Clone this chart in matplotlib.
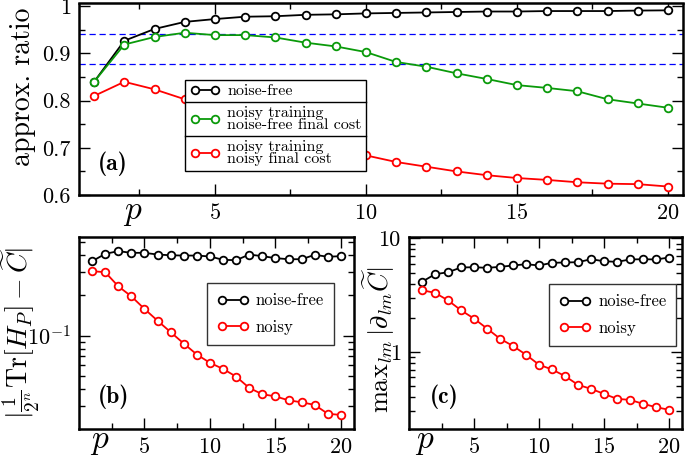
import numpy as np
import matplotlib.pyplot as plt
from matplotlib.lines import Line2D
from matplotlib.ticker import FuncFormatter, NullFormatter, FixedLocator

plt.rcParams["font.family"] = "serif"
plt.rcParams["font.serif"] = ["cmr10"]
plt.rcParams["mathtext.fontset"] = "cm"
plt.rcParams["axes.unicode_minus"] = False
plt.rcParams["axes.formatter.use_mathtext"] = True

# Circuit depth
p = [1, 2, 3, 4, 5, 6, 7, 8, 9, 10, 11, 12, 13, 14, 15, 16, 17, 18, 19, 20]

# (a) approximation ratio
ratio_free = [0.840, 0.927, 0.952, 0.967, 0.973, 0.978, 0.979, 0.982, 0.983, 0.985,
              0.986, 0.987, 0.988, 0.989, 0.989, 0.990, 0.990, 0.990, 0.991, 0.9915]
ratio_noisy_train = [0.840, 0.919, 0.935, 0.944, 0.939, 0.939, 0.934, 0.923, 0.915, 0.903,
                     0.882, 0.872, 0.858, 0.846, 0.833, 0.827, 0.820, 0.803, 0.794, 0.785]
ratio_noisy = [0.810, 0.840, 0.824, 0.803, 0.782, 0.762, 0.744, 0.727, 0.710, 0.684,
               0.670, 0.660, 0.650, 0.642, 0.636, 0.632, 0.627, 0.624, 0.623, 0.618]
bounds = [16 / 17, 0.878]

# (b) cost difference
diff_free = [0.358, 0.407, 0.426, 0.414, 0.414, 0.402, 0.397, 0.395, 0.395, 0.389,
             0.367, 0.365, 0.402, 0.391, 0.378, 0.371, 0.371, 0.400, 0.387, 0.391]
diff_noisy = [0.302, 0.297, 0.233, 0.196, 0.158, 0.129, 0.106, 0.0872, 0.0722, 0.0626,
              0.0564, 0.0494, 0.0407, 0.0365, 0.0352, 0.0329, 0.0318, 0.0304, 0.0261, 0.0256]

# (c) max gradient
grad_free = [4.15, 4.84, 5.04, 5.55, 5.58, 5.51, 5.62, 5.78, 5.93, 5.78,
             6.10, 6.14, 6.18, 6.56, 6.30, 6.22, 6.53, 6.56, 6.53, 6.79]
grad_noisy = [3.50, 3.32, 2.85, 2.33, 1.97, 1.61, 1.31, 1.13, 0.947, 0.773,
              0.702, 0.614, 0.514, 0.474, 0.428, 0.387, 0.379, 0.350, 0.327, 0.310]

green = "#0a9a0a"
mk = dict(marker="o", ms=5.5, mfc="white", mew=1.3, lw=1.3)

W, H = 685, 458
fig = plt.figure(figsize=(W / 100, H / 100), dpi=100)
ax_a = fig.add_axes([79 / W, 1 - 195 / H, 604 / W, 191.5 / H])
ax_b = fig.add_axes([79 / W, 1 - 429 / H, 275 / W, 192.5 / H])
ax_c = fig.add_axes([409 / W, 1 - 429 / H, 273 / W, 192.5 / H])

for ax in (ax_a, ax_b, ax_c):
    for s in ax.spines.values():
        s.set_linewidth(1.8)
    ax.tick_params(which="both", direction="in", top=True, right=True, labelsize=16)
    ax.tick_params(which="major", length=8, width=1, pad=6)
    ax.tick_params(which="minor", length=4.5, width=1)
    ax.set_xticks([5, 10, 15, 20])
    ax.xaxis.set_minor_locator(FixedLocator([2.5, 7.5, 12.5, 17.5]))

# ---- panel (a)
for b in bounds:
    ax_a.axhline(b, color="blue", ls=(0, (5, 3)), lw=0.9, zorder=1)
la, = ax_a.plot(p, ratio_free, color="k", zorder=3, **mk)
lb, = ax_a.plot(p, ratio_noisy_train, color=green, zorder=3, **mk)
lc, = ax_a.plot(p, ratio_noisy, color="red", zorder=2, **mk)
ax_a.set_xlim(0.5, 20.5)
ax_a.set_ylim(0.6, 1.006)
ax_a.set_yticks([0.6, 0.7, 0.8, 0.9, 1.0])
ax_a.yaxis.set_minor_locator(FixedLocator([0.65, 0.75, 0.85, 0.95]))
ax_a.yaxis.set_major_formatter(FuncFormatter(lambda v, _: f"{v:g}"))
leg_a = ax_a.legend([la, lb, lc],
                    ["noise-free", "noisy training\nnoise-free final cost",
                     "noisy training\nnoisy final cost"],
                    loc="upper left", bbox_to_anchor=(0.1755, 0.603), borderaxespad=0,
                    numpoints=2, fontsize=11.5, fancybox=False, framealpha=1,
                    edgecolor="k", handlelength=1.9, handletextpad=0.45,
                    labelspacing=0.45, borderpad=0.3)
leg_a.get_frame().set_linewidth(1.0)
leg_a.set_zorder(5)
for t in leg_a.get_texts():
    t.set_linespacing(0.9)
ax_a.text(0.056, 0.161, "(a)", transform=ax_a.transAxes, ha="center", va="center",
          fontsize=17, family="cmb10")
fig.text(23 / W, 1 - 87 / H, "approx. ratio", rotation=90, ha="center", va="center",
         fontsize=20)
fig.text(133 / W, 1 - 213 / H, "$p$", ha="center", va="center", fontsize=24)

# ---- panel (b)
l1, = ax_b.plot(p, diff_free, color="k", **mk)
l2, = ax_b.plot(p, diff_noisy, color="red", **mk)
ax_b.set_yscale("log")
ax_b.set_xlim(0, 21)
ax_b.set_ylim(0.0201, 0.548)
ax_b.yaxis.set_minor_formatter(NullFormatter())
leg_b = ax_b.legend([l1, l2], ["noise-free", "noisy"], loc="upper left",
                    bbox_to_anchor=(0.465, 0.758), borderaxespad=0, numpoints=2,
                    fontsize=12, fancybox=False, framealpha=1, edgecolor="#333333",
                    handlelength=1.9, handletextpad=0.45, labelspacing=0.65,
                    borderpad=0.6)
leg_b.get_frame().set_linewidth(1.0)
ax_b.text(0.124, 0.166, "(b)", transform=ax_b.transAxes, ha="center", va="center",
          fontsize=17, family="cmb10")
fig.text(21 / W, 1 - 333 / H, r"$|\frac{1}{2^n}\mathrm{Tr}[H_P]-\widetilde{C}|$",
         rotation=90, ha="center", va="center", fontsize=20)
fig.text(100 / W, 1 - 442 / H, "$p$", ha="center", va="center", fontsize=24)

# ---- panel (c)
l3, = ax_c.plot(p, grad_free, color="k", **mk)
l4, = ax_c.plot(p, grad_noisy, color="red", **mk)
ax_c.set_yscale("log")
ax_c.set_xlim(0, 21)
ax_c.set_ylim(0.21, 10.4)
ax_c.set_yticks([1, 10])
ax_c.yaxis.set_major_formatter(FuncFormatter(lambda v, _: f"{v:g}"))
ax_c.yaxis.set_minor_formatter(NullFormatter())
leg_c = ax_c.legend([l3, l4], ["noise-free", "noisy"], loc="upper left",
                    bbox_to_anchor=(0.513, 0.753), borderaxespad=0, numpoints=2,
                    fontsize=12, fancybox=False, framealpha=1, edgecolor="#333333",
                    handlelength=1.9, handletextpad=0.45, labelspacing=0.65,
                    borderpad=0.6)
leg_c.get_frame().set_linewidth(1.0)
ax_c.text(0.128, 0.166, "(c)", transform=ax_c.transAxes, ha="center", va="center",
          fontsize=17, family="cmb10")
fig.text(379 / W, 1 - 340 / H, r"$\mathrm{max}_{lm}\,|\partial_{lm}\widetilde{C}|$",
         rotation=90, ha="center", va="center", fontsize=19)
fig.text(425 / W, 1 - 442 / H, "$p$", ha="center", va="center", fontsize=24)

# separators between legend (a) entries
fig.canvas.draw()
renderer = fig.canvas.get_renderer()
frame = leg_a.get_frame().get_window_extent(renderer)
tb = [t.get_window_extent(renderer) for t in leg_a.get_texts()]
inv = fig.transFigure.inverted()
for upper, lower in zip(tb[:-1], tb[1:]):
    ymid = 0.5 * (upper.y0 + lower.y1)
    (x0, y0), (x1, _) = inv.transform([(frame.x0, ymid), (frame.x1, ymid)])
    fig.add_artist(Line2D([x0, x1], [y0, y0], color="k", lw=1.0, zorder=10))

fig.savefig("out.png", dpi=100)
